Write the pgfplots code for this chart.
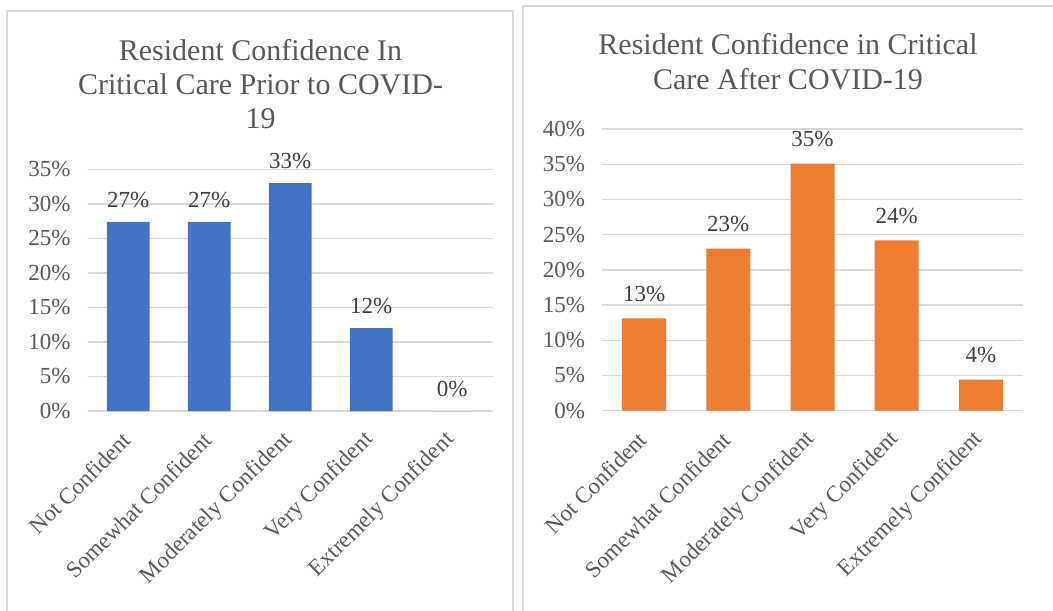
\documentclass[border=0pt]{standalone}
\usepackage{fontspec}
\setmainfont{Liberation Serif}
\usepackage{pgfplots}
\pgfplotsset{compat=1.18}
\definecolor{bblue}{HTML}{4472C4}
\definecolor{borange}{HTML}{ED7D31}
\definecolor{tgray}{HTML}{595959}
\definecolor{lgray}{HTML}{404040}
\definecolor{gridc}{HTML}{D9D9D9}
\definecolor{framec}{HTML}{D9D9D9}

\pgfplotsset{
 mybar/.style={
  scale only axis,
  ybar,
  xmin=-0.5, xmax=4.5, ymin=0,
  xtick={0,...,4},
  xticklabels={Not Confident, Somewhat Confident, Moderately Confident, Very Confident, Extremely Confident},
  axis line style={draw=none},
  major tick length=0pt,
  ymajorgrids, grid style={color=gridc, line width=0.7pt},
  /pgf/number format/assume math mode=true,
  yticklabel={\pgfmathprintnumber{\tick}\%},
  tick label style={font=\fontsize{11.5}{13}\selectfont, text=tgray},
  yticklabel style={xshift=-5pt},
  xticklabel style={rotate=45, anchor=east, yshift=-8.5pt, xshift=-6pt},
  clip=false,
  nodes near coords={\pgfmathprintnumber[fixed,precision=0]{\pgfplotspointmeta}\%},
  every node near coord/.append style={font=\fontsize{11.5}{13}\selectfont, text=lgray},
 }
}

\begin{document}
\begin{tikzpicture}
\useasboundingbox (0,0) rectangle (526.5pt,-305pt);
% panel frames
\draw[framec, line width=1pt] (3.5pt,-310pt) -- (3.5pt,-5.5pt) -- (256.5pt,-5.5pt) -- (256.5pt,-310pt);
\draw[framec, line width=1pt] (261.5pt,-310pt) -- (261.5pt,-3pt) -- (530pt,-3pt);

% titles
\begin{scope}[every node/.style={font=\fontsize{15}{17}\selectfont, text=tgray, anchor=base, inner sep=0pt}]
\node at (130.25pt,-30.5pt) {Resident Confidence In};
\node at (130.25pt,-47.5pt) {Critical Care Prior to COVID-};
\node at (130.25pt,-64pt) {19};
\node at (394pt,-27.5pt) {Resident Confidence in Critical};
\node at (394pt,-45pt) {Care After COVID-19};
\end{scope}

% left chart
\begin{axis}[mybar,
  at={(43.85pt,-205.5pt)}, anchor=south west,
  width=202.5pt, height=120.85pt,
  ymax=35, ytick={0,5,...,35},
  bar width=21.3pt,
  every node near coord/.append style={yshift=3.5pt}]
\addplot[fill=bblue, draw=none] coordinates {(0,27.4) (1,27.4) (2,33.0) (3,12.0) (4,0)};
\end{axis}

% right chart
\begin{axis}[mybar,
  at={(301pt,-205.35pt)}, anchor=south west,
  width=210.5pt, height=140.85pt,
  ymax=40, ytick={0,5,...,40},
  bar width=22pt,
  every node near coord/.append style={yshift=4.8pt}]
\addplot[fill=borange, draw=none] coordinates {(0,13.1) (1,23.0) (2,35.1) (3,24.2) (4,4.4)};
\end{axis}
\end{tikzpicture}
\end{document}
